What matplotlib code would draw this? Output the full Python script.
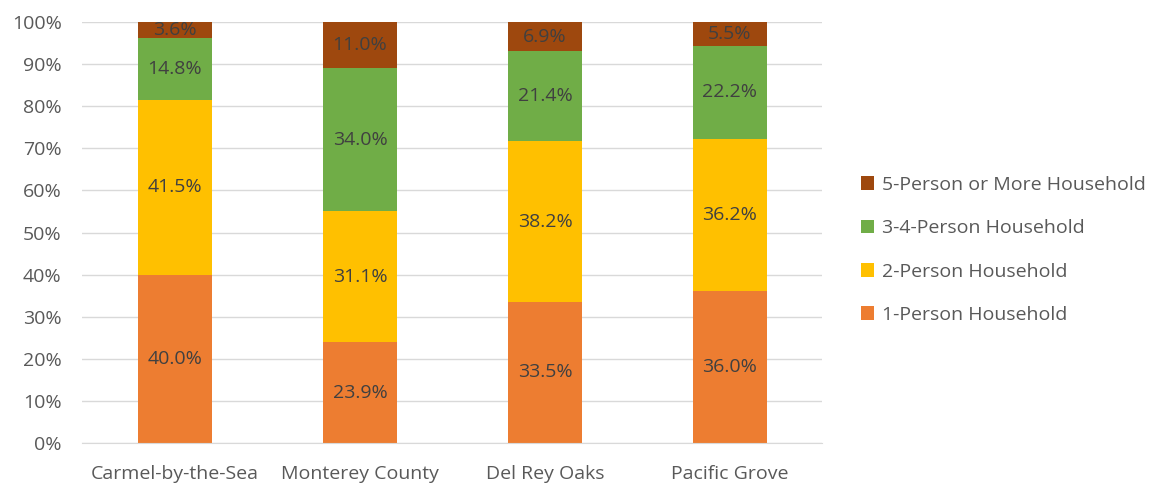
import matplotlib.pyplot as plt
import numpy as np
from matplotlib.ticker import PercentFormatter

places = ["Carmel-by-the-Sea", "Monterey County", "Del Rey Oaks", "Pacific Grove"]
series = ["1-Person Household", "2-Person Household", "3-4-Person Household", "5-Person or More Household"]
one_person = [40.0, 23.9, 33.5, 36.0]
two_person = [41.5, 31.1, 38.2, 36.2]
three_four = [14.8, 34.0, 21.4, 22.2]
five_plus = [3.6, 11.0, 6.9, 5.5]
colors = ["#ED7D31", "#FFC000", "#70AD47", "#9E480E"]

plt.rcParams["font.family"] = ["Open Sans", "DejaVu Sans"]
txt = "#404040"
axtxt = "#595959"
fs = 14

fig = plt.figure(figsize=(11.69, 4.87), dpi=100)
ax = fig.add_axes([82.5 / 1169, 1 - 443 / 487, 740 / 1169, 421 / 487])

x = np.arange(len(places))
bottom = np.zeros(len(places))
handles = []
for vals, name, c in zip([one_person, two_person, three_four, five_plus], series, colors):
    vals = np.array(vals)
    b = ax.bar(x, vals, 0.4, bottom=bottom, color=c, label=name, zorder=2)
    handles.append(b)
    for xi, v, b0 in zip(x, vals, bottom):
        ax.text(xi, b0 + v / 2, f"{v:.1f}%", ha="center", va="center",
                fontsize=fs, color=txt, zorder=3)
    bottom += vals

ax.set_xlim(-0.5, 3.5)
ax.set_ylim(0, 100)
ax.set_yticks(np.arange(0, 101, 10))
ax.yaxis.set_major_formatter(PercentFormatter(decimals=0))
ax.grid(axis="y", color="#D9D9D9", lw=1, zorder=0)
ax.set_xticks(x)
ax.set_xticklabels(places)
ax.tick_params(axis="both", length=0, labelsize=fs, labelcolor=axtxt)
ax.tick_params(axis="x", pad=16)
ax.tick_params(axis="y", pad=15)
for s in ["top", "right", "left"]:
    ax.spines[s].set_visible(False)
ax.spines["bottom"].set_color("#D9D9D9")

leg = fig.legend(handles[::-1], series[::-1], loc="center left",
                 bbox_to_anchor=(843 / 1169, 1 - 250 / 487), frameon=False,
                 fontsize=fs, labelspacing=1.3, handlelength=0.7, handleheight=0.7,
                 handletextpad=0.4)
for t in leg.get_texts():
    t.set_color(axtxt)

fig.savefig("out.png", dpi=100)
